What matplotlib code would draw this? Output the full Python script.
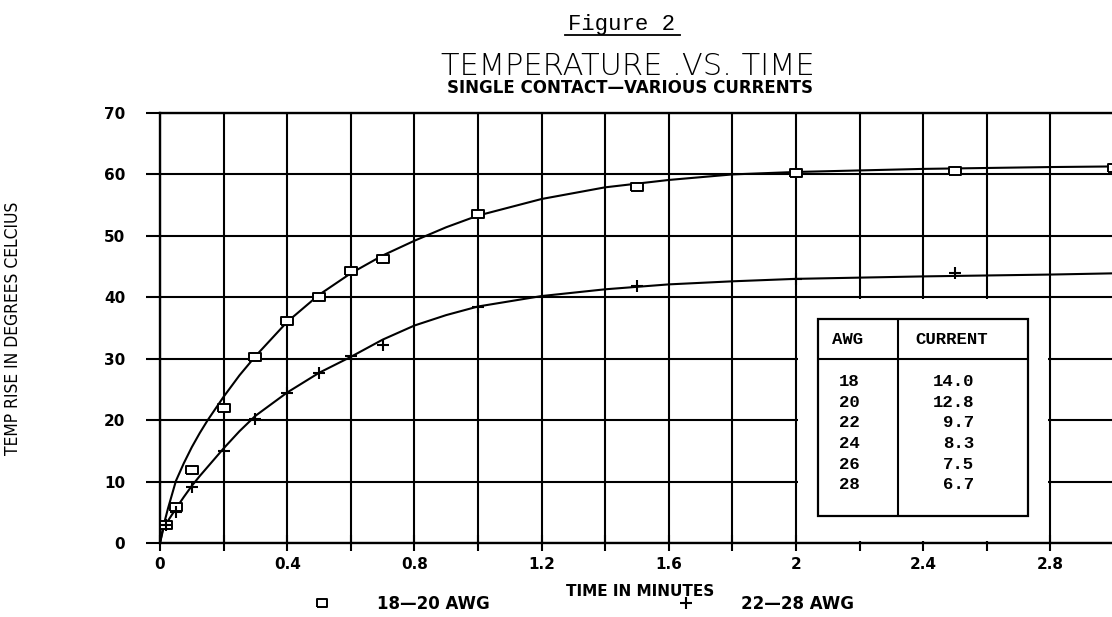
import numpy as np
import matplotlib.pyplot as plt
from matplotlib.patches import Rectangle
from matplotlib.lines import Line2D

# measured points, 18-20 AWG (squares)
t_sq = [0.02, 0.05, 0.1, 0.2, 0.3, 0.4, 0.5, 0.6, 0.7, 1.0, 1.5, 2.0, 2.5, 3.0]
temp_sq = [3.0, 5.8, 11.9, 22.0, 30.2, 36.1, 40.0, 44.2, 46.2, 53.5, 57.9, 60.2, 60.6, 61.0]

# measured points, 22-28 AWG (plus)
t_pl = [0.02, 0.05, 0.1, 0.2, 0.3, 0.4, 0.5, 0.6, 0.7, 1.0, 1.5, 2.0, 2.5]
temp_pl = [2.9, 5.0, 9.1, 15.0, 20.2, 24.4, 27.7, 30.5, 32.2, 38.5, 41.8, 43.0, 43.9]

# fitted curves
t_fit = [0, 0.01, 0.025, 0.05, 0.075, 0.1, 0.125, 0.15, 0.2, 0.25, 0.3, 0.4, 0.5,
         0.6, 0.7, 0.8, 0.9, 1.0, 1.2, 1.4, 1.6, 1.8, 2.0, 2.4, 2.8, 3.0]
fit_sq = [0, 2.6, 5.6, 10.1, 13.0, 15.6, 17.9, 20.0, 23.8, 27.3, 30.4, 36.0, 40.4,
          43.9, 46.8, 49.2, 51.4, 53.3, 56.0, 57.9, 59.1, 60.0, 60.4, 60.9, 61.2, 61.3]
fit_pl = [0, 2.2, 3.6, 5.6, 7.5, 9.3, 10.9, 12.4, 15.4, 18.2, 20.7, 24.5, 27.7,
          30.3, 33.1, 35.4, 37.1, 38.5, 40.2, 41.3, 42.1, 42.6, 43.0, 43.4, 43.7, 43.9]

xtick_vals = [0, 0.4, 0.8, 1.2, 1.6, 2.0, 2.4, 2.8]
xtick_labels = ['0', '0.4', '0.8', '1.2', '1.6', '2', '2.4', '2.8']
ytick_vals = [0, 10, 20, 30, 40, 50, 60, 70]

awg = ['18', '20', '22', '24', '26', '28']
current = ['14.0', '12.8', '9.7', '8.3', '7.5', '6.7']

rect_marker = [(-1.35, -1), (1.35, -1), (1.35, 1), (-1.35, 1), (-1.35, -1)]

fig = plt.figure(figsize=(11.12, 6.17), dpi=100)
ax = fig.add_axes([160 / 1112, 74 / 617, 952 / 1112, 430 / 617])

ax.set_xlim(0, 2.994)
ax.set_ylim(0, 70)
ax.set_xticks(xtick_vals, xtick_labels)
ax.set_xticks(np.arange(0.2, 3.0, 0.4), minor=True)
ax.set_yticks(ytick_vals)
ax.set_axisbelow(True)
ax.grid(True, which='both', color='black', lw=1.5)
for s in ['left', 'top', 'bottom']:
    ax.spines[s].set_linewidth(1.7)
ax.spines['right'].set_visible(False)

ax.tick_params(axis='x', which='both', direction='inout', length=12, width=1.5,
               labelsize=11, pad=4)
ax.tick_params(axis='y', direction='out', length=10, width=1.5, labelsize=11, pad=15)
for lbl in ax.get_xticklabels() + ax.get_yticklabels():
    lbl.set_fontweight('bold')

# blank area behind the current table
ax.add_patch(Rectangle((2.006, 0.3), 0.788, 39.4, facecolor='white',
                       edgecolor='none', zorder=1))

ax.plot(t_fit, fit_sq, color='black', lw=1.5, zorder=2)
ax.plot(t_fit, fit_pl, color='black', lw=1.5, zorder=2)
ax.plot(t_sq, temp_sq, ls='none', marker=rect_marker, ms=8, mfc='white',
        mec='black', mew=1.4, zorder=3)
ax.plot(t_pl, temp_pl, ls='none', marker='+', ms=8, mec='black', mew=1.5, zorder=3)

# current table
tx0, tx1, ty0, ty1 = 2.07, 2.73, 4.4, 36.4
ax.add_patch(Rectangle((tx0, ty0), tx1 - tx0, ty1 - ty0, facecolor='white',
                       edgecolor='black', lw=1.6, zorder=3))
ax.hlines(29.9, tx0, tx1, color='black', lw=1.5, zorder=4)
ax.vlines(2.32, ty0, ty1, color='black', lw=1.5, zorder=4)
mono = dict(family='Liberation Mono', fontsize=12.5, fontweight='bold', color='black', zorder=5)
ax.text(2.113, 33.1, 'AWG', va='center', ha='left', **mono)
ax.text(2.377, 33.1, 'CURRENT', va='center', ha='left', **mono)
for i, (a, c) in enumerate(zip(awg, current)):
    yy = 26.3 - i * 3.37
    ax.text(2.135, yy, a, va='center', ha='left', **mono)
    ax.text(2.56, yy, c, va='center', ha='right', **mono)

ax.set_xlabel('TIME IN MINUTES', fontsize=11, fontweight='bold')
ax.xaxis.set_label_coords((640 - 160) / 952, -(584 - 543) / 430)
ax.set_ylabel('TEMP RISE IN DEGREES CELCIUS', fontsize=12.5,
              family=['Liberation Sans Narrow', 'DejaVu Sans'], fontstretch='condensed')
ax.yaxis.set_label_coords(-(160 - 22) / 952, 0.5)

handles = [
    Line2D([], [], ls='none', marker=rect_marker, ms=7, mfc='white', mec='black', mew=1.4),
    Line2D([], [], ls='none', marker='+', ms=8, mec='black', mew=1.5),
]
leg = fig.legend(handles, ['18—20 AWG', '22—28 AWG'], loc='center left',
                 bbox_to_anchor=(302 / 1112, 1 - 604 / 617), ncol=2, frameon=False,
                 borderpad=0, handlelength=1.4, handletextpad=2.6, columnspacing=11.1,
                 prop=dict(size=12, weight='bold'))

fig.text(0.565, 1 - 75 / 617, 'TEMPERATURE .VS. TIME', ha='center', va='baseline',
         fontsize=22, fontweight='light')
fig.text(0.5665, 1 - 93 / 617, 'SINGLE CONTACT—VARIOUS CURRENTS', ha='center',
         va='baseline', fontsize=12, fontweight='bold')
fig.text(0.559, 1 - 30 / 617, 'Figure 2', ha='center', va='baseline',
         family='Liberation Mono', fontsize=16)
fig.add_artist(Line2D([565 / 1112, 680 / 1112], [1 - 35 / 617, 1 - 35 / 617],
                      color='black', lw=1.3))

fig.savefig('out.png', dpi=100)
